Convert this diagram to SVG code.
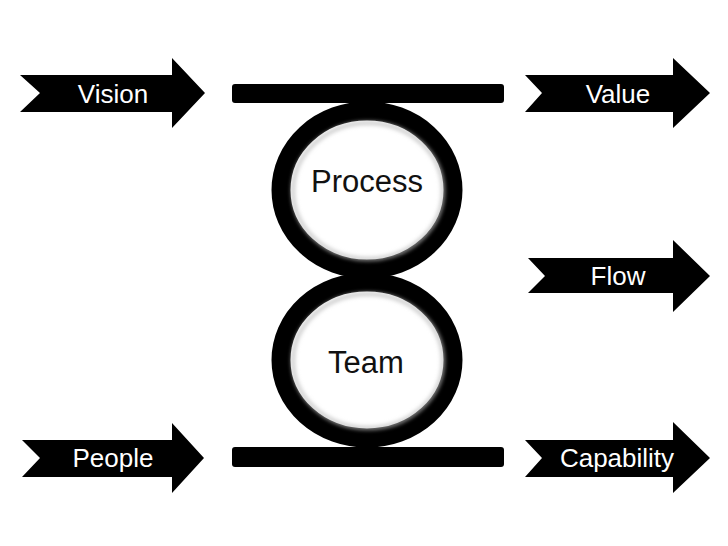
<svg xmlns="http://www.w3.org/2000/svg" width="728" height="546" viewBox="0 0 728 546">
  <defs>
    <filter id="soft" x="-20%" y="-20%" width="140%" height="140%">
      <feGaussianBlur stdDeviation="2"/>
    </filter>
  </defs>
  <style>
    .arrow { fill: #000; }
    .alabel { fill: #fff; font-family: "Liberation Sans", Arial, sans-serif; font-size: 26px; text-anchor: middle; }
    .clabel { fill: #111; font-family: "Liberation Sans", Arial, sans-serif; font-size: 31px; text-anchor: middle; }
    .ring { fill: #fff; stroke: #000; stroke-width: 19; }
    .shade { fill: none; stroke: #bdbdbd; stroke-width: 3; filter: url(#soft); }
    .bar { fill: #000; }
  </style>
  <rect width="728" height="546" fill="#fff"/>

  <g id="connectors"></g>

  <g id="process">
    <ellipse class="ring" cx="367" cy="190" rx="86" ry="79"/>
    <ellipse class="shade" cx="368" cy="191" rx="75" ry="68"/>
    <text class="clabel" x="367" y="192">Process</text>
  </g>
  <g id="team">
    <ellipse class="ring" cx="367" cy="360" rx="86" ry="78"/>
    <ellipse class="shade" cx="368" cy="361" rx="75" ry="67"/>
    <text class="clabel" x="366" y="373">Team</text>
  </g>
  <g id="top-bar">
    <rect class="bar" x="232" y="84" width="272" height="19" rx="3"/>
  </g>
  <g id="bottom-bar">
    <rect class="bar" x="232" y="447" width="272" height="20" rx="3"/>
  </g>

  <g id="vision">
    <polygon class="arrow" points="20,75 172,75 172,58 205,93 172,128 172,112 20,112 40,93"/>
    <text class="alabel" x="113" y="103">Vision</text>
  </g>
  <g id="people">
    <polygon class="arrow" points="22,440 172,440 172,423 204,458 172,493 172,477 22,477 40,458"/>
    <text class="alabel" x="113" y="467">People</text>
  </g>
  <g id="value">
    <polygon class="arrow" points="525,75 673,75 673,58 710,93 673,128 673,112 525,112 542,93"/>
    <text class="alabel" x="618" y="103">Value</text>
  </g>
  <g id="flow">
    <polygon class="arrow" points="528,258 673,258 673,240 710,276 673,312 673,293 528,293 545,276"/>
    <text class="alabel" x="618" y="285">Flow</text>
  </g>
  <g id="capability">
    <polygon class="arrow" points="525,440 673,440 673,422 710,458 673,493 673,477 525,477 542,458"/>
    <text class="alabel" x="617" y="467">Capability</text>
  </g>
</svg>
